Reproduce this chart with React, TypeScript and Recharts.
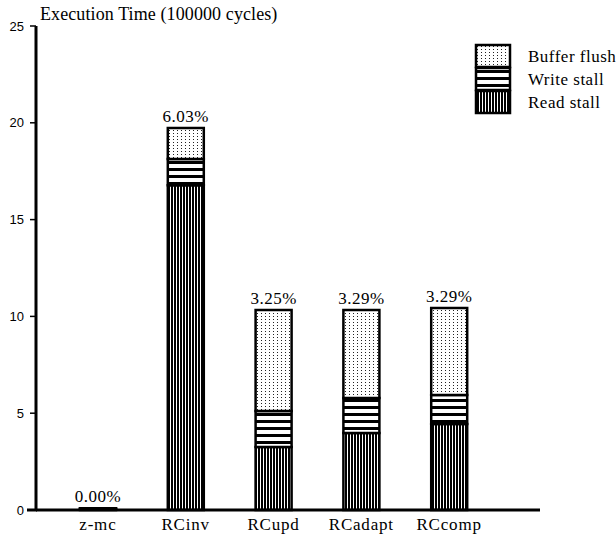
import React from 'react';
import { BarChart, Bar, XAxis, YAxis, LabelList } from 'recharts';

const categories = ['z-mc', 'RCinv', 'RCupd', 'RCadapt', 'RCcomp'];
const readStall = [0.05, 16.78, 3.25, 3.98, 4.44];
const writeStall = [0.02, 1.35, 1.86, 1.81, 1.5];
const bufferFlush = [0.02, 1.6, 5.22, 4.54, 4.49];
const pctLabels = ['0.00%', '6.03%', '3.25%', '3.29%', '3.29%'];
const yTicks = [0, 5, 10, 15, 20, 25];

const data = categories.map((name, i) => ({
  name,
  read: readStall[i],
  write: writeStall[i],
  flush: bufferFlush[i],
  pct: pctLabels[i],
}));

const serif = 'Liberation Serif';

// fill patterns, prefix keeps ids unique between chart and legend
const Patterns = ({ p }: { p: string }) => (
  <defs>
    <pattern id={`${p}dots`} width={4} height={3} patternUnits="userSpaceOnUse">
      <rect width={4} height={3} fill="#fff" />
      <rect x={1} y={1} width={1} height={1} fill="#222" />
    </pattern>
    <pattern id={`${p}hlines`} width={8} height={7} patternUnits="userSpaceOnUse">
      <rect width={8} height={7} fill="#fff" />
      <rect y={0} width={8} height={3} fill="#000" />
    </pattern>
    <pattern id={`${p}vlines`} width={3} height={8} patternUnits="userSpaceOnUse">
      <rect width={3} height={8} fill="#fff" />
      <rect x={0} width={2} height={8} fill="#000" />
    </pattern>
  </defs>
);

const legendItems = [
  { label: 'Buffer flush', fill: 'dots' },
  { label: 'Write stall', fill: 'hlines' },
  { label: 'Read stall', fill: 'vlines' },
];

export default function App() {
  return (
    <div style={{ position: 'absolute', left: 0, top: 0, width: 616, height: 536 }}>
      <BarChart
        width={616}
        height={536}
        data={data}
        margin={{ top: 26, right: 76, left: 0, bottom: 0 }}
        barSize={36}
      >
        <Patterns p="c-" />
        <XAxis
          dataKey="name"
          height={26}
          padding={{ left: 18, right: 47 }}
          axisLine={{ stroke: '#000', strokeWidth: 3 }}
          tickLine={false}
          tick={{ fill: '#000', fontSize: 17, fontFamily: serif, letterSpacing: 0.8 }}
        />
        <YAxis
          width={36}
          domain={[0, 25]}
          ticks={yTicks}
          interval={0}
          axisLine={{ stroke: '#000', strokeWidth: 3 }}
          tickLine={{ stroke: '#000', strokeWidth: 1.5 }}
          tickSize={6}
          tickMargin={6}
          tick={{ fill: '#000', fontSize: 13, fontFamily: 'Liberation Sans' }}
        />
        <Bar dataKey="read" stackId="a" fill="url(#c-vlines)" stroke="#000" strokeWidth={2.5} isAnimationActive={false} />
        <Bar dataKey="write" stackId="a" fill="url(#c-hlines)" stroke="#000" strokeWidth={2.5} isAnimationActive={false} />
        <Bar dataKey="flush" stackId="a" fill="url(#c-dots)" stroke="#000" strokeWidth={2.5} isAnimationActive={false}>
          <LabelList
            dataKey="pct"
            position="top"
            offset={6}
            fill="#000"
            fontSize={17}
            fontFamily={serif}
            letterSpacing={0.5}
          />
        </Bar>
      </BarChart>
      <svg width={616} height={536} style={{ position: 'absolute', left: 0, top: 0, pointerEvents: 'none' }}>
        <Patterns p="l-" />
        <text x={40} y={20} fontSize={18} fill="#000" fontFamily={serif} letterSpacing={0.1}>
          Execution Time (100000 cycles)
        </text>
        {/* little overhang of the x axis left of the y axis */}
        <rect x={27} y={508.5} width={10} height={3} fill="#000" />
        {legendItems.map((it, i) => (
          <g key={it.label}>
            <rect
              x={476}
              y={45 + i * 23}
              width={34}
              height={22}
              fill={`url(#l-${it.fill})`}
              stroke="#000"
              strokeWidth={2.5}
            />
            <text x={528} y={62 + i * 23} fontSize={17} fill="#000" fontFamily={serif} letterSpacing={0.5}>
              {it.label}
            </text>
          </g>
        ))}
      </svg>
    </div>
  );
}
